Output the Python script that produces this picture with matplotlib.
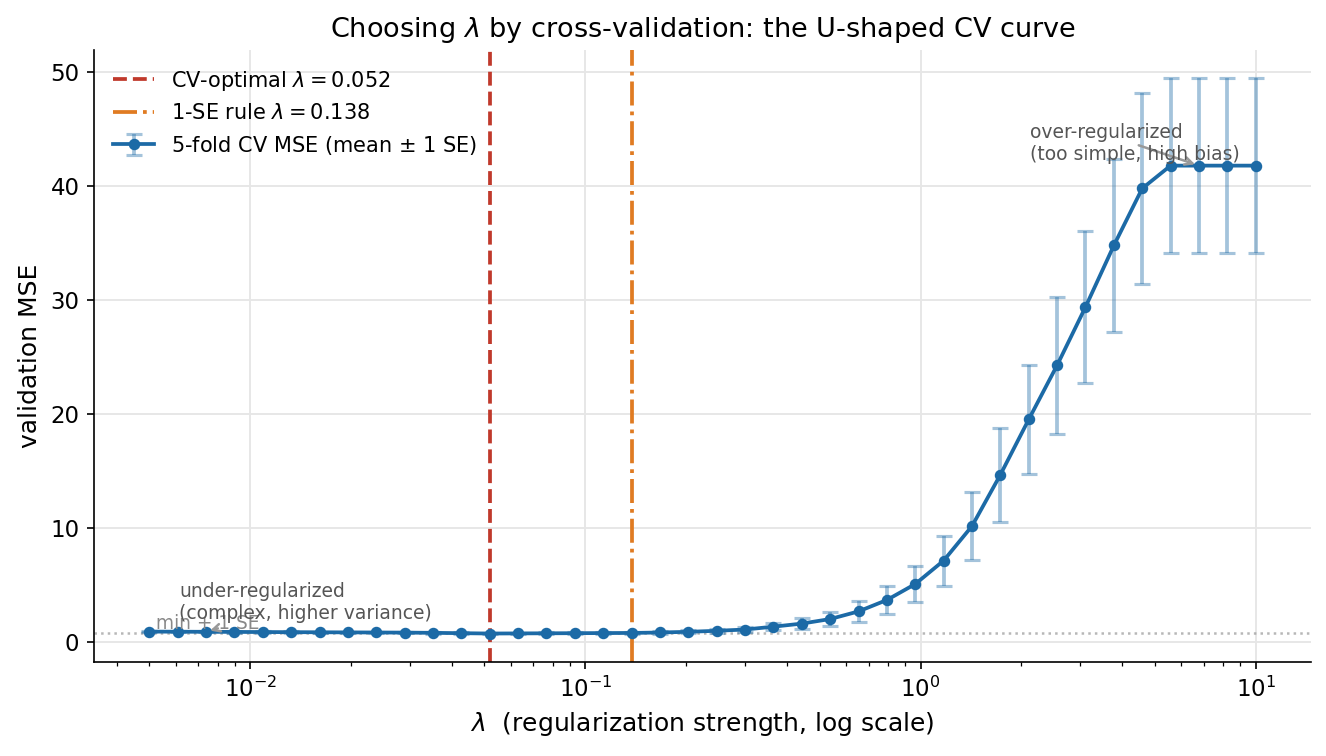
import numpy as np
import matplotlib
matplotlib.use("Agg")
import matplotlib.pyplot as plt

# ---- data ----
lambdas = np.logspace(np.log10(0.005), 1, 40)
cv_mean = [0.95, 0.94, 0.93, 0.92, 0.91, 0.90, 0.89, 0.88, 0.87, 0.86,
           0.84, 0.81, 0.78, 0.79, 0.80, 0.81, 0.82, 0.83, 0.87, 0.93,
           1.02, 1.13, 1.38, 1.65, 2.05, 2.72, 3.72, 5.12, 7.17, 10.2,
           14.7, 19.55, 24.3, 29.4, 34.8, 39.8, 41.8, 41.8, 41.8, 41.8]
cv_se = [0.06, 0.06, 0.06, 0.06, 0.06, 0.06, 0.06, 0.06, 0.06, 0.06,
         0.06, 0.06, 0.06, 0.06, 0.07, 0.07, 0.08, 0.09, 0.1, 0.12,
         0.16, 0.22, 0.32, 0.48, 0.65, 0.9, 1.2, 1.6, 2.2, 3.0,
         4.1, 4.8, 6.0, 6.7, 7.6, 8.35, 7.7, 7.7, 7.7, 7.7]
lam_opt = 0.052
lam_1se = 0.138
min_plus_se = 0.84

main_c = "#1c6aa6"
red_c = "#c0392b"
orange_c = "#e07b22"

plt.rcParams['font.family'] = ['DejaVu Sans']
fig = plt.figure(figsize=(8.84, 5.04), dpi=150)
ax = fig.add_axes([0.0709, 0.1243, 0.9178, 0.8096])

ax.axvline(lam_opt, color=red_c, ls='--', lw=1.8, label=r'CV-optimal $\lambda = 0.052$')
ax.axvline(lam_1se, color=orange_c, ls='-.', lw=1.8, label=r'1-SE rule $\lambda = 0.138$')
ax.axhline(min_plus_se, color='#999999', ls=':', lw=1.2, alpha=0.7)

eb = ax.errorbar(lambdas, cv_mean, yerr=cv_se, fmt='-o', color=main_c, lw=1.8, ms=4.5,
                 ecolor=main_c, elinewidth=1.8, capsize=4, capthick=1.5,
                 label=r'5-fold CV MSE (mean $\pm$ 1 SE)')
for c in eb[1]:
    c.set_alpha(0.4)
for c in eb[2]:
    c.set_alpha(0.4)

ax.set_xscale('log')
ax.grid(True, which='major', color='#e6e6e6', lw=0.9)
ax.set_axisbelow(True)
for s in ['top', 'right']:
    ax.spines[s].set_visible(False)
ax.tick_params(labelsize=11)

ax.text(lambdas[0] * 1.05, 1.7, 'min + 1 SE', color='#888888', fontsize=8.9, va='center')

ax.annotate('under-regularized\n(complex, higher variance)',
            xy=(lambdas[2], cv_mean[2]), xytext=(0.00614, 3.5),
            fontsize=9.0, color='#555555', va='center', ha='left',
            arrowprops=dict(arrowstyle='->', color='#999999', lw=1.2))
ax.annotate('over-regularized\n(too simple, high bias)',
            xy=(lambdas[37], cv_mean[37]), xytext=(2.12, 43.7),
            fontsize=9.0, color='#555555', va='center', ha='left',
            arrowprops=dict(arrowstyle='->', color='#999999', lw=1.2))

ax.set_xlabel(r'$\lambda$  (regularization strength, log scale)', fontsize=12)
ax.set_ylabel('validation MSE', fontsize=12)
ax.set_title(r'Choosing $\lambda$ by cross-validation: the U-shaped CV curve', fontsize=13)
ax.legend(loc='upper left', frameon=False, fontsize=10)

fig.savefig('out.png', dpi=150)
